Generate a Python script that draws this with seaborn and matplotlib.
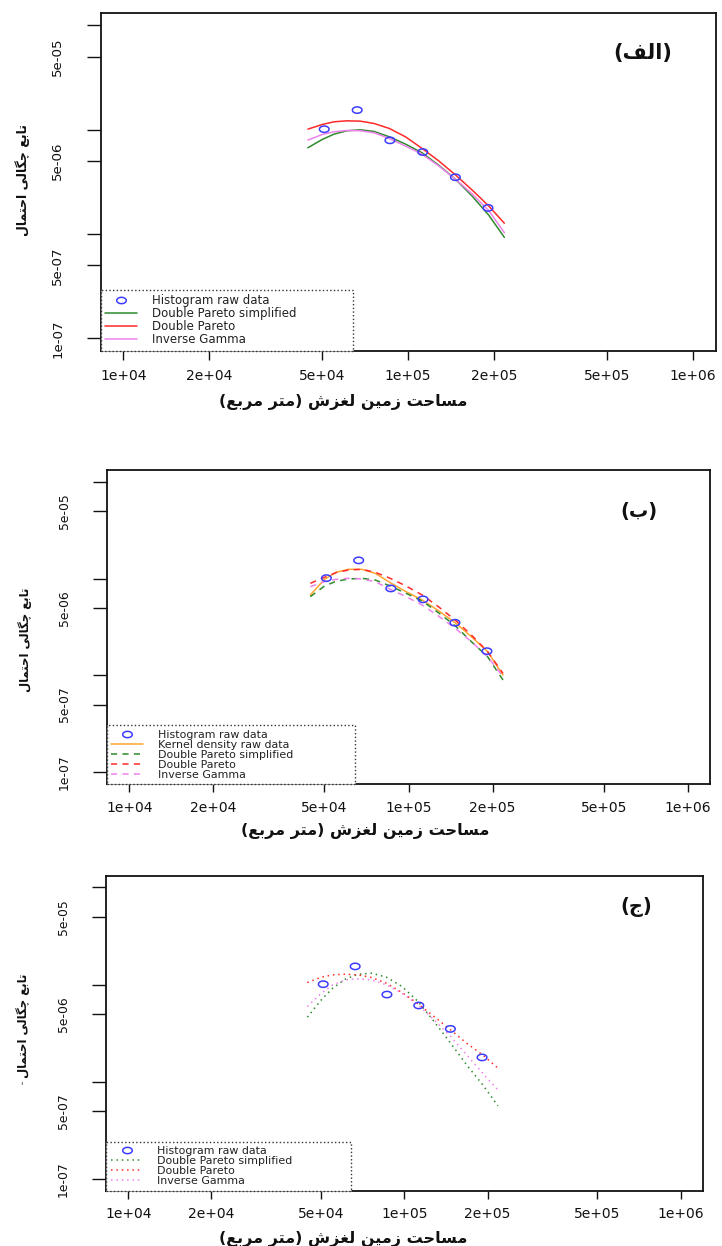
import numpy as np
import matplotlib
matplotlib.use("Agg")
import matplotlib.pyplot as plt
from matplotlib.lines import Line2D
from matplotlib.path import Path
import seaborn as sns

# histogram raw data (bin centres in m2, density)
hist_x = [50800, 66300, 86400, 112700, 146700, 191000]
hist_y = [1.01e-05, 1.54e-05, 7.9e-06, 6.1e-06, 3.5e-06, 1.78e-06]

# fitted curves, values
curve_x = [44500, 50000, 55000, 61000, 68000, 76000, 86000, 98000,
           112000, 128000, 147000, 168000, 192000, 218000]

# panel (a) - solid lines
a_dps = [6.71e-06, 8.06e-06, 9.06e-06, 9.75e-06, 9.97e-06, 9.61e-06, 8.54e-06,
         7.27e-06, 6.01e-06, 4.58e-06, 3.34e-06, 2.31e-06, 1.52e-06, 9.3e-07]
a_dp = [1.011e-05, 1.121e-05, 1.189e-05, 1.215e-05, 1.206e-05, 1.146e-05, 1.026e-05,
        8.54e-06, 6.61e-06, 5.04e-06, 3.67e-06, 2.64e-06, 1.86e-06, 1.27e-06]
a_ig = [7.94e-06, 8.99e-06, 9.54e-06, 9.82e-06, 9.75e-06, 9.33e-06, 8.23e-06,
        6.96e-06, 5.83e-06, 4.51e-06, 3.34e-06, 2.42e-06, 1.68e-06, 1.03e-06]

# panel (b) - kernel density + dashed fits
b_kde = [6.76e-06, 9.81e-06, 1.159e-05, 1.245e-05, 1.245e-05, 1.132e-05, 9.06e-06,
         7.32e-06, 6.0e-06, 4.66e-06, 3.5e-06, 2.51e-06, 1.76e-06, 1.01e-06]
b_dps = [6.5e-06, 8.37e-06, 9.36e-06, 9.89e-06, 1.005e-05, 9.66e-06, 8.37e-06,
         7.04e-06, 5.86e-06, 4.44e-06, 3.26e-06, 2.23e-06, 1.56e-06, 8.97e-07]
b_dp = [8.92e-06, 1.029e-05, 1.15e-05, 1.225e-05, 1.245e-05, 1.159e-05, 1.005e-05,
        8.37e-06, 6.76e-06, 5.12e-06, 3.73e-06, 2.61e-06, 1.76e-06, 1.05e-06]
b_ig = [8.24e-06, 9.28e-06, 9.81e-06, 1.005e-05, 9.89e-06, 9.28e-06, 7.74e-06,
        6.5e-06, 5.33e-06, 4.1e-06, 3.06e-06, 2.23e-06, 1.56e-06, 9.71e-07]

# panel (c) - dotted fits
c_dps = [4.62e-06, 6.97e-06, 9.19e-06, 1.137e-05, 1.28e-05, 1.311e-05, 1.193e-05,
         9.56e-06, 6.7e-06, 4.17e-06, 2.49e-06, 1.49e-06, 9.3e-07, 5.65e-07]
c_dp = [1.051e-05, 1.193e-05, 1.26e-05, 1.28e-05, 1.26e-05, 1.183e-05, 1.034e-05,
        8.29e-06, 6.34e-06, 4.69e-06, 3.42e-06, 2.49e-06, 1.89e-06, 1.38e-06]
c_ig = [5.95e-06, 8.16e-06, 9.94e-06, 1.119e-05, 1.146e-05, 1.119e-05, 9.94e-06,
        8.16e-06, 6.19e-06, 4.34e-06, 2.92e-06, 1.89e-06, 1.225e-06, 8.25e-07]

x_ticks = [1e4, 2e4, 5e4, 1e5, 2e5, 5e5, 1e6]
x_labels = ["1e+04", "2e+04", "5e+04", "1e+05", "2e+05", "5e+05", "1e+06"]
y_ticks = [1e-7, 5e-7, 1e-6, 5e-6, 1e-5, 5e-5, 1e-4]
y_labels = ["1e-07", "5e-07", "", "5e-06", "", "5e-05", ""]

x_title = "مساحت زمین لغزش (متر مربع)"
y_title = "تابع چگالی احتمال"

BLUE = "#3c3cff"
GREEN = "#2e8b2e"
RED = "#ff2a2a"
PINK = "#ee82ee"
ORANGE = "#ffa532"

# --- minimal persian shaping (matplotlib has no bidi / joining) ---
FORMS = {
    "ا": ("\uFE8D", "\uFE8E"), "ر": ("\uFEAD", "\uFEAE"), "ز": ("\uFEAF", "\uFEB0"),
    "ب": ("\uFE8F", "\uFE90", "\uFE91", "\uFE92"), "ت": ("\uFE95", "\uFE96", "\uFE97", "\uFE98"),
    "ج": ("\uFE9D", "\uFE9E", "\uFE9F", "\uFEA0"), "ح": ("\uFEA1", "\uFEA2", "\uFEA3", "\uFEA4"),
    "س": ("\uFEB1", "\uFEB2", "\uFEB3", "\uFEB4"), "ش": ("\uFEB5", "\uFEB6", "\uFEB7", "\uFEB8"),
    "ع": ("\uFEC9", "\uFECA", "\uFECB", "\uFECC"), "غ": ("\uFECD", "\uFECE", "\uFECF", "\uFED0"),
    "ف": ("\uFED1", "\uFED2", "\uFED3", "\uFED4"), "ل": ("\uFEDD", "\uFEDE", "\uFEDF", "\uFEE0"),
    "م": ("\uFEE1", "\uFEE2", "\uFEE3", "\uFEE4"), "ن": ("\uFEE5", "\uFEE6", "\uFEE7", "\uFEE8"),
    "ی": ("\uFBFC", "\uFBFD", "\uFBFE", "\uFBFF"), "چ": ("\uFB7A", "\uFB7B", "\uFB7C", "\uFB7D"),
    "گ": ("\uFB92", "\uFB93", "\uFB94", "\uFB95"),
}


def fa(text):
    out = []
    for i, ch in enumerate(text):
        if ch not in FORMS:
            out.append(ch)
            continue
        prev = text[i - 1] if i > 0 else ""
        nxt = text[i + 1] if i + 1 < len(text) else ""
        jp = prev in FORMS and len(FORMS[prev]) == 4
        jn = len(FORMS[ch]) == 4 and nxt in FORMS
        f = FORMS[ch]
        if jp and jn:
            out.append(f[3])
        elif jp:
            out.append(f[1])
        elif jn:
            out.append(f[2])
        else:
            out.append(f[0])
    vis = "".join(out)[::-1]
    return vis.translate(str.maketrans("()", ")("))


sns.set_theme(style="ticks")
plt.rcParams["font.family"] = ["DejaVu Sans"]
plt.rcParams["axes.unicode_minus"] = False

t = np.linspace(0, 2 * np.pi, 41)
ellipse = Path(np.column_stack([np.cos(t), 0.66 * np.sin(t)]))

fig = plt.figure(figsize=(7.22, 12.46), dpi=100)

panels = [
    dict(rect=[0.1392, 0.7183, 0.8518, 0.2715], tag="(الف)", tag_xy=(0.882, 0.880),
         xlab=(0.394, -0.150), ylab=(-0.127, 0.505), legw=0.4106, k=1.0,
         curves=[("Double Pareto simplified", a_dps, GREEN, "-"),
                 ("Double Pareto", a_dp, RED, "-"),
                 ("Inverse Gamma", a_ig, PINK, "-")]),
    dict(rect=[0.1482, 0.3708, 0.8352, 0.2520], tag="(ب)", tag_xy=(0.882, 0.867),
         xlab=(0.428, -0.149), ylab=(-0.136, 0.459), legw=0.4113, k=0.93,
         curves=[("Kernel density raw data", b_kde, ORANGE, "-"),
                 ("Double Pareto simplified", b_dps, GREEN, (0, (4, 3.5))),
                 ("Double Pareto", b_dp, RED, (0, (4, 3.5))),
                 ("Inverse Gamma", b_ig, PINK, (0, (4, 3.5)))]),
    dict(rect=[0.1471, 0.0445, 0.8262, 0.2526], tag="(ج)", tag_xy=(0.888, 0.902),
         xlab=(0.397, -0.154), ylab=(-0.139, 0.525), legw=0.4109, k=0.93,
         curves=[("Double Pareto simplified", c_dps, GREEN, (0, (1, 2.5))),
                 ("Double Pareto", c_dp, RED, (0, (1, 2.5))),
                 ("Inverse Gamma", c_ig, PINK, (0, (1, 2.5)))]),
]

for p in panels:
    k = p["k"]
    ax = fig.add_axes(p["rect"])
    ax.set_xscale("log")
    ax.set_yscale("log")

    for name, ys, color, ls in p["curves"]:
        sns.lineplot(x=curve_x, y=ys, ax=ax, color=color, linestyle=ls, lw=1.1,
                     sort=False, estimator=None, zorder=3)
    sns.scatterplot(x=hist_x, y=hist_y, ax=ax, marker=ellipse, s=48,
                    facecolor="none", edgecolor=BLUE, linewidth=1.1, zorder=4)

    ax.set_xlim(1e4 * 10 ** -0.08, 1e6 * 10 ** 0.08)
    ax.set_ylim(1e-7 * 10 ** -0.12, 1e-4 * 10 ** 0.12)
    ax.set_xticks(x_ticks)
    ax.set_xticklabels(x_labels)
    ax.set_yticks(y_ticks)
    ax.set_yticklabels(y_labels, rotation=90, va="center")
    ax.minorticks_off()
    ax.tick_params(axis="x", length=6.3 * k, width=1, pad=6.5 * k, labelsize=10, colors="#111111")
    ax.tick_params(axis="y", length=10, width=1, pad=16, labelsize=9.6 * k, colors="#111111")
    for s in ax.spines.values():
        s.set_color("#111111")
        s.set_linewidth(1.3)

    ax.set_xlabel(fa(x_title), fontsize=11.5, fontweight="bold", color="#111111")
    ax.xaxis.set_label_coords(*p["xlab"])
    ax.xaxis.label.set(ha="center", va="center")
    ax.set_ylabel(fa(y_title), fontsize=9.0 * k, fontweight="bold", color="#111111")
    ax.yaxis.set_label_coords(*p["ylab"])
    ax.yaxis.label.set(ha="center", va="center")

    ax.text(*p["tag_xy"], fa(p["tag"]), transform=ax.transAxes, ha="center",
            va="center", fontsize=15 * k, fontweight="bold", color="#111111")

    handles = [Line2D([], [], ls="none", marker=ellipse, markersize=6.9,
                      mfc="none", mec=BLUE, mew=1.1)]
    names = ["Histogram raw data"]
    for name, ys, color, ls in p["curves"]:
        handles.append(Line2D([], [], color=color, ls=ls, lw=1.1))
        names.append(name)
    fs = 8.5 * k
    px = fs * 100 / 72
    leg = ax.legend(handles=handles, labels=names, loc="lower left",
                    bbox_to_anchor=(0, 0, p["legw"], 1), mode="expand",
                    borderaxespad=0, fontsize=fs, labelspacing=0.0, borderpad=0.4,
                    handlelength=32 / px, handletextpad=14.5 / px, fancybox=False,
                    framealpha=1, edgecolor="#333333")
    leg.get_frame().set_linestyle(":")
    leg.get_frame().set_linewidth(1.0)
    for txt in leg.get_texts():
        txt.set_color("#222222")

# stray tick mark beside the y title of the last panel
fig.text(0.030, 1 - 1086 / 1246, "'", ha="center", va="center", fontsize=7, color="#333333")

fig.savefig("out.png", dpi=100)
